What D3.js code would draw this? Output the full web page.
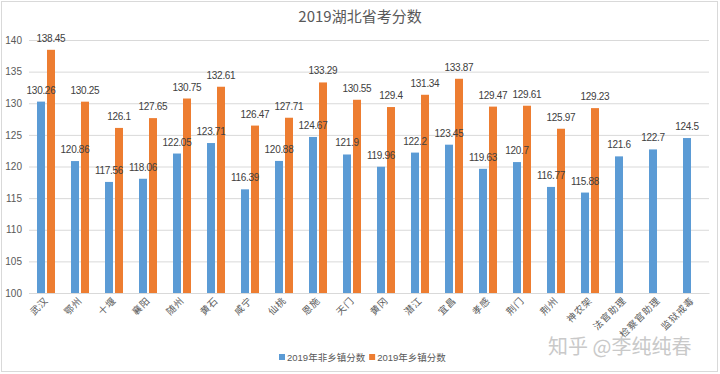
<!DOCTYPE html>
<html>
<head>
<meta charset="utf-8">
<script src="https://cdn.jsdelivr.net/npm/d3@7"></script>
<style>
  body { margin: 0; background: #fff; }
  text { font-family: "Liberation Sans", "Noto Sans CJK SC", sans-serif; }
</style>
</head>
<body>
<svg id="chart" width="720" height="374"></svg>
<script>
// 数据
const cities = ['武汉', '鄂州', '十堰', '襄阳', '随州', '黄石', '咸宁', '仙桃', '恩施', '天门',
    '黄冈', '潜江', '宜昌', '孝感', '荆门', '荆州', '神农架', '法官助理', '检察官助理', '监狱戒毒'];
const nonTown = [130.26, 120.86, 117.56, 118.06, 122.05, 123.71, 116.39, 120.88, 124.67, 121.9,
    119.96, 122.2, 123.45, 119.63, 120.7, 116.77, 115.88, 121.6, 122.7, 124.5];
const town = [138.45, 130.25, 126.1, 127.65, 130.75, 132.61, 126.47, 127.71, 133.29, 130.55,
    129.4, 131.34, 133.87, 129.47, 129.61, 125.97, 129.23, null, null, null];
const seriesNames = ['2019年非乡镇分数', '2019年乡镇分数'];
const yTicks = [100, 105, 110, 115, 120, 125, 130, 135, 140];

(function () {
    const svg = d3.select('#chart');
    const colors = ['#5b9bd5', '#ed7d31'];
    const margin = { top: 40, left: 29, right: 11, bottom: 81 };
    const width = 720 - margin.left - margin.right;
    const height = 374 - margin.top - margin.bottom;

    // 外框
    svg.append('rect')
        .attr('x', 1.5).attr('y', 1.5)
        .attr('width', 716).attr('height', 370)
        .attr('fill', '#fff')
        .attr('stroke', '#d9d9d9');

    // 标题
    svg.append('text')
        .attr('x', 360).attr('y', 22)
        .attr('text-anchor', 'middle')
        .attr('fill', '#595959')
        .style('font-family', '"Noto Sans CJK SC", sans-serif')
        .style('font-size', '15px')
        .text('2019湖北省考分数');

    const g = svg.append('g').attr('transform', `translate(${margin.left},${margin.top})`);

    const x0 = d3.scaleBand().domain(cities).range([0, width]);
    const x1 = d3.scaleBand().domain([0, 1]).range([8, 26]).paddingInner(0.2);
    const y = d3.scaleLinear().domain([100, 140]).range([height, 0]);

    // 网格线 + y轴
    const yAxis = g.append('g')
        .call(d3.axisLeft(y).tickValues(yTicks).tickSize(-width).tickPadding(7));
    yAxis.select('.domain').remove();
    yAxis.selectAll('.tick line').attr('stroke', '#d9d9d9');
    yAxis.selectAll('.tick text')
        .attr('fill', '#595959')
        .style('font-size', '10px')
        .attr('font-family', null);

    // x轴
    const xAxis = g.append('g')
        .attr('transform', `translate(0,${height})`)
        .call(d3.axisBottom(x0).tickSize(0).tickPadding(0));
    xAxis.select('.domain').attr('stroke', '#d9d9d9');
    xAxis.selectAll('.tick text')
        .attr('font-family', null)
        .attr('fill', '#595959')
        .style('font-size', '9.5px')
        .style('letter-spacing', '1px')
        .attr('text-anchor', 'end')
        .attr('dy', null)
        .attr('transform', 'translate(3,8) rotate(-45)');

    const rows = cities.map((c, i) => ({ city: c, values: [nonTown[i], town[i]] }));

    const group = g.selectAll('.cat')
        .data(rows)
        .enter()
        .append('g')
        .attr('transform', d => `translate(${x0(d.city)},0)`);

    const cells = group.selectAll('.cell')
        .data(d => d.values.map((v, k) => ({ k: k, v: v })).filter(d => d.v !== null))
        .enter();

    cells.append('rect')
        .attr('x', d => x1(d.k))
        .attr('width', x1.bandwidth())
        .attr('y', d => y(d.v))
        .attr('height', d => height - y(d.v))
        .attr('fill', d => colors[d.k]);

    // 数值标签
    cells.append('text')
        .attr('x', d => x1(d.k) + x1.bandwidth() / 2)
        .attr('y', d => y(d.v) - 8)
        .attr('text-anchor', 'middle')
        .attr('fill', '#404040')
        .style('font-size', '10px')
        .style('letter-spacing', '-0.3px')
        .text(d => d.v);

    // 图例
    const legend = svg.append('g').attr('transform', 'translate(279,357)');
    let lx = 0;
    seriesNames.forEach((name, k) => {
        legend.append('rect')
            .attr('x', lx).attr('y', -3)
            .attr('width', 6).attr('height', 6)
            .attr('fill', colors[k]);
        const t = legend.append('text')
            .attr('x', lx + 8).attr('y', 4)
            .attr('fill', '#595959')
            .style('font-size', '9.5px')
            .text(name);
        lx += 8 + t.node().getComputedTextLength() + 4;
    });

    // 水印
    svg.append('text')
        .attr('x', 548).attr('y', 354)
        .attr('fill', '#c9c9c9')
        .style('font-family', '"Noto Sans CJK SC", sans-serif')
        .style('font-size', '20px')
        .text('知乎 @李纯纯春');
}());
</script>
</body>
</html>
